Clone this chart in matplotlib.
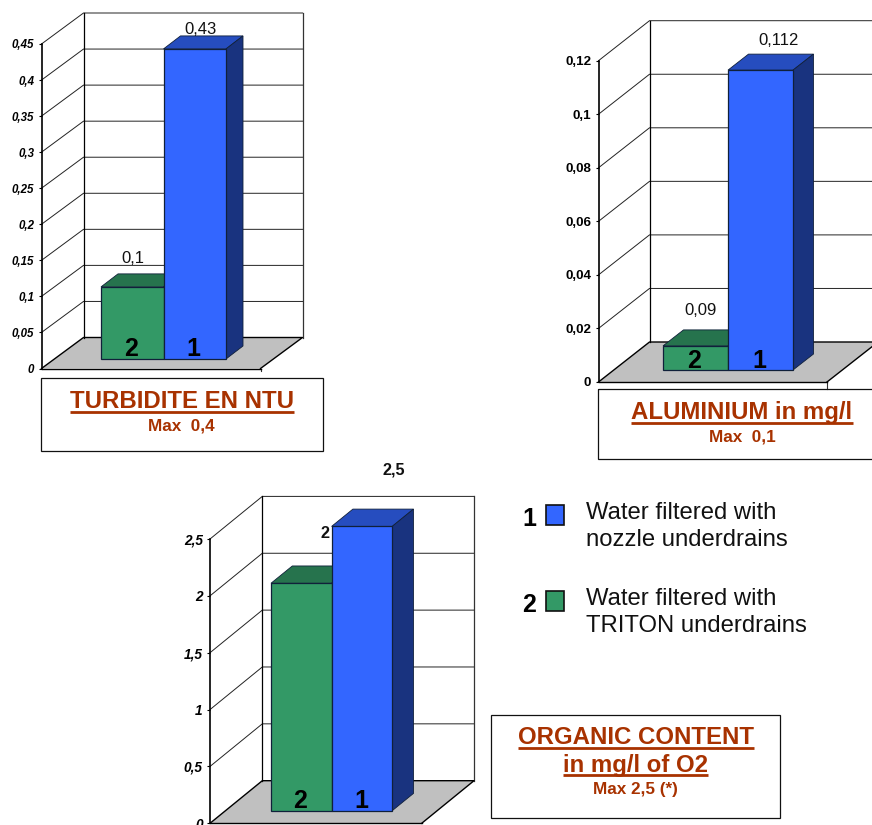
import matplotlib
matplotlib.use('Agg')
import matplotlib.pyplot as plt
from matplotlib.patches import Polygon, Rectangle

plt.rcParams['font.family'] = ['Liberation Sans', 'DejaVu Sans']

W, H = 872, 825

# chart values
turb_ticks = [0, 0.05, 0.1, 0.15, 0.2, 0.25, 0.3, 0.35, 0.4, 0.45]
turb_ticklabels = ['0', '0,05', '0,1', '0,15', '0,2', '0,25', '0,3', '0,35', '0,4', '0,45']
turb_values = [0.1, 0.43]
turb_labels = ['0,1', '0,43']

alu_ticks = [0, 0.02, 0.04, 0.06, 0.08, 0.1, 0.12]
alu_ticklabels = ['0', '0,02', '0,04', '0,06', '0,08', '0,1', '0,12']
alu_values = [0.009, 0.112]
alu_labels = ['0,09', '0,112']

org_ticks = [0, 0.5, 1, 1.5, 2, 2.5]
org_ticklabels = ['0', '0,5', '1', '1,5', '2', '2,5']
org_values = [2, 2.5]
org_labels = ['2', '2,5']

bar_names = ['2', '1']
legend_names = ['1', '2']
legend_text = ['Water filtered with\nnozzle underdrains', 'Water filtered with\nTRITON underdrains']

GREEN = ['#339966', '#26734d', '#26734d']
BLUE = ['#3366ff', '#264dbf', '#19337f']
TITLE = '#a83200'


def draw_panel(rect, ticks, ticklabels, values, labels, depth, base, bar_left, bar_w, side,
               offsets, style, tail=0, label_size=12, label_weight='normal'):
    # rect is the front plane in pixels: left, zero line, right, top tick
    left, y0, right, ytop = rect
    ax = fig.add_axes([left / W, 1 - y0 / H, (right - left) / W, (y0 - ytop) / H])
    ax.patch.set_visible(False)
    ymax = ticks[-1]
    x0 = (left - bar_left) / bar_w - 0.5
    x1 = x0 + (right - left) / bar_w
    ax.set_xlim(x0, x1)
    ax.set_ylim(0, ymax)
    px = 1 / bar_w
    py = ymax / (y0 - ytop)
    dx, dy = depth[0] * px, depth[1] * py

    # walls and floor
    ax.add_patch(Polygon([(x0, 0), (x1, 0), (x1 + dx, dy), (x0 + dx, dy)], fc='#c0c0c0', ec='none',
                         clip_on=False, zorder=1))
    for t in ticks[1:]:
        ax.plot([x0, x0 + dx, x1 + dx], [t, t + dy, t + dy], color='#222222', lw=0.7, clip_on=False, zorder=1.5)
    ax.plot([x0 + dx, x0 + dx], [dy, ymax + dy], color='k', lw=0.9, clip_on=False, zorder=1.5)
    ax.plot([x1 + dx, x1 + dx], [dy, ymax + dy], color='#333333', lw=0.9, clip_on=False, zorder=1.5)
    ax.plot([x0, x0 + dx, x1 + dx, x1], [0, dy, dy, 0], color='k', lw=1.0, clip_on=False, zorder=1.6)
    if tail:
        ax.plot([x1, x1], [0, -tail * py], color='#333333', lw=0.8, clip_on=False, zorder=1.6)

    # bars with their top and side faces
    sx, sy = side[0] * px, side[1] * py
    base_v = base * py
    for i, (v, cols) in enumerate(zip(values, [GREEN, BLUE])):
        top = base_v + v
        ax.add_patch(Polygon([(i - .5, top), (i + .5, top), (i + .5 + sx, top + sy), (i - .5 + sx, top + sy)],
                             fc=cols[1], ec='#10203a', lw=0.6, clip_on=False, zorder=2 + i))
        ax.add_patch(Polygon([(i + .5, base_v), (i + .5, top), (i + .5 + sx, top + sy), (i + .5 + sx, base_v + sy)],
                             fc=cols[2], ec='#10203a', lw=0.6, clip_on=False, zorder=2 + i))
        ax.bar(i, v, 1, bottom=base_v, color=cols[0], edgecolor='#10203a', lw=0.9, clip_on=False, zorder=2.5 + i)
        ax.annotate(bar_names[i], (i, base_v), xytext=(-1, 2.5), textcoords='offset pixels', ha='center',
                    va='baseline', fontsize=18, fontweight='bold', color='k', zorder=6)
        ax.annotate(labels[i], (i, top), xytext=offsets[i], textcoords='offset pixels', ha='center',
                    va='baseline', fontsize=label_size, fontweight=label_weight,
                    color='#111111', annotation_clip=False, zorder=6)

    # y axis
    for s in ['top', 'right']:
        ax.spines[s].set_visible(False)
    ax.spines['left'].set_linewidth(1.2)
    ax.spines['bottom'].set_linewidth(1.0)
    ax.spines['left'].set_zorder(7)
    ax.spines['bottom'].set_zorder(1.7)
    ax.set_xticks([])
    ax.set_yticks(ticks, ticklabels, **style)
    ax.tick_params(axis='y', length=2.2, width=0.8, pad=3)
    return ax


fig = plt.figure(figsize=(W / 100, H / 100), dpi=100)

draw_panel((41.5, 368.5, 260.5, 44), turb_ticks, turb_ticklabels, turb_values, turb_labels,
           depth=(42, 31), base=9.5, bar_left=101, bar_w=62.5, side=(17, 13),
           offsets=[(1, 24), (6, 15)], style=dict(fontsize=8.3, fontweight='bold', fontstyle='italic'), tail=2)
draw_panel((598.5, 382, 827, 60.7), alu_ticks, alu_ticklabels, alu_values, alu_labels,
           depth=(51, 40), base=12, bar_left=663, bar_w=65, side=(20.5, 16),
           offsets=[(5, 31), (18, 25)], style=dict(fontsize=9.6, fontweight='bold'), tail=7)
draw_panel((210, 823.3, 421.7, 539), org_ticks, org_ticklabels, org_values, org_labels,
           depth=(52.3, 42.6), base=12.6, bar_left=271, bar_w=60.6, side=(21.3, 17.3),
           offsets=[(24, 45), (32, 52)], style=dict(fontsize=9.8, fontweight='bold', fontstyle='italic'),
           label_size=11.7, label_weight='bold')

# page layer in pixels for the title boxes and the legend
page = fig.add_axes([0, 0, 1, 1], zorder=10)
page.set_xlim(0, W)
page.set_ylim(H, 0)
page.axis('off')


def title_box(x0, y0, x1, y1, cx, lines, sub, sub_y):
    page.add_patch(Rectangle((x0, y0), x1 - x0, y1 - y0, fc='none', ec='#111111', lw=0.9, clip_on=False))
    renderer = fig.canvas.get_renderer()
    for txt, y in lines:
        t = page.text(cx, y, txt, ha='center', va='baseline', fontsize=17.3, fontweight='bold', color=TITLE)
        w = t.get_window_extent(renderer).width
        page.plot([cx - w / 2, cx + w / 2], [y + 3.7, y + 3.7], color=TITLE, lw=2.0, solid_capstyle='butt')
    page.text(cx, sub_y, sub, ha='center', va='baseline', fontsize=12.3, fontweight='bold', color=TITLE)


title_box(40.7, 378, 323.3, 451, 181.5, [('TURBIDITE EN NTU', 408)], 'Max  0,4', 430.7)
title_box(598.3, 389.3, 900, 459.3, 742, [('ALUMINIUM in mg/l', 419.3)], 'Max  0,1', 441.7)
title_box(490.7, 715, 779.7, 817.7, 635.5, [('ORGANIC CONTENT', 744.3), ('in mg/l of O2', 771.7)],
          'Max 2,5 (*)', 794.3)

# legend
for name, txt, col, y in zip(legend_names, legend_text, [BLUE[0], GREEN[0]], [505, 591]):
    page.add_patch(Rectangle((546, y), 18, 20, fc=col, ec='#111111', lw=1.2))
    page.text(529, y + 20.5, name, ha='center', va='baseline', fontsize=18, fontweight='bold', color='k')
    page.text(586, y + 40.7, txt, ha='left', va='baseline', fontsize=17.2, color='#111111', linespacing=1.25)

fig.savefig('out.png', dpi=100)
